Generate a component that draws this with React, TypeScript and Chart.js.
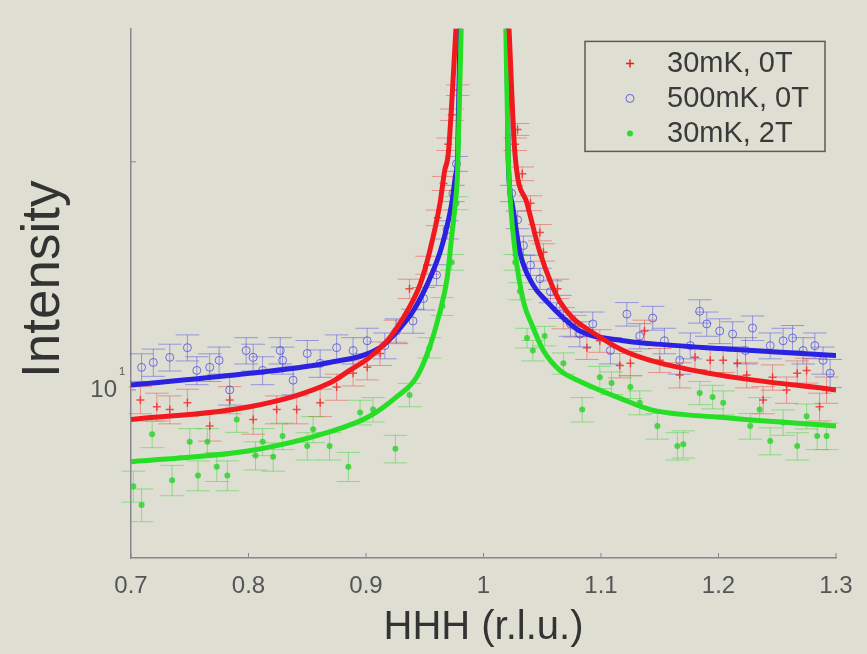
import React, { useEffect, useRef } from 'react';
import { Chart, registerables } from 'chart.js';
Chart.register(...registerables);

// ---- axes ----
const xTicks = [0.7, 0.8, 0.9, 1.0, 1.1, 1.2, 1.3];
const yTicks = [10, 20];
const xRange = [0.7, 1.3];
const yRange = [6, 30];
const xTitle = 'HHH (r.l.u.)';
const yTitle = 'Intensity';
const seriesNames = ['30mK, 0T', '500mK, 0T', '30mK, 2T'];

// ---- fitted curves (left and right of the Bragg peak) ----
const fitRedLeftX = [0.700, 0.801, 0.869, 0.886, 0.903, 0.920, 0.935, 0.946, 0.954, 0.963, 0.967, 0.970, 0.9766];
const fitRedLeftY = [9.14, 9.50, 10.21, 10.61, 11.04, 11.71, 12.70, 13.77, 15.19, 17.64, 19.49, 20.48, 30];
const fitRedRightX = [1.0217, 1.0268, 1.037, 1.048, 1.058, 1.065, 1.076, 1.091, 1.119, 1.142, 1.201, 1.300];
const fitRedRightY = [30, 20.48, 17.64, 15.19, 13.77, 13.08, 12.44, 11.96, 11.27, 10.94, 10.46, 10.0];

const fitBlueLeftX = [0.700, 0.801, 0.869, 0.912, 0.929, 0.940, 0.952, 0.963, 0.969, 0.973, 0.976, 0.978, 0.980];
const fitBlueLeftY = [10.15, 10.52, 10.87, 11.37, 12.07, 12.70, 13.77, 15.19, 16.46, 17.64, 19.11, 20.48, 30];
const fitBlueRightX = [1.020, 1.0209, 1.0243, 1.031, 1.042, 1.054, 1.068, 1.082, 1.119, 1.142, 1.201, 1.300];
const fitBlueRightY = [30, 20.48, 17.64, 15.19, 13.77, 13.08, 12.44, 11.96, 11.61, 11.51, 11.34, 11.10];

const fitGreenLeftX = [0.700, 0.801, 0.869, 0.903, 0.926, 0.943, 0.954, 0.963, 0.969, 0.973, 0.976, 0.978, 0.981];
const fitGreenLeftY = [8.04, 8.31, 8.80, 9.23, 9.79, 10.39, 11.37, 12.70, 14.02, 15.98, 17.64, 19.49, 30];
const fitGreenRightX = [1.019, 1.021, 1.023, 1.027, 1.034, 1.041, 1.051, 1.065, 1.080, 1.119, 1.142, 1.201, 1.300];
const fitGreenRightY = [30, 20.48, 17.64, 15.19, 13.08, 12.21, 11.27, 10.61, 10.30, 9.71, 9.42, 9.20, 8.96];

// ---- measured points ----
const redDataX = [0.708, 0.722, 0.733, 0.748, 0.767, 0.784, 0.804, 0.824, 0.841, 0.861, 0.875, 0.889, 0.901, 0.912, 0.925, 0.937, 0.952, 0.961, 0.966, 0.970, 0.973, 0.978,
  1.027, 1.029, 1.033, 1.040, 1.048, 1.051, 1.063, 1.068, 1.078, 1.088, 1.099, 1.116, 1.125, 1.137, 1.150, 1.167, 1.180, 1.193, 1.204, 1.216, 1.224, 1.238, 1.246, 1.258, 1.267, 1.275, 1.286, 1.292];
const redDataY = [9.70, 9.50, 9.42, 9.62, 8.96, 9.70, 9.14, 9.42, 9.42, 9.62, 10.09, 10.52, 10.71, 11.17, 11.96, 13.60, 14.61, 16.87, 18.73, 21.10, 23.08, 24.87,
  21.10, 22.07, 19.29, 17.64, 16.13, 15.19, 13.60, 12.44, 12.14, 11.37, 11.61, 10.77, 10.84, 11.96, 10.94, 10.46, 11.04, 10.94, 10.94, 10.84, 10.46, 9.70, 10.39, 10.0, 10.52, 10.61, 9.50, 10.0];

const blueDataX = [0.709, 0.719, 0.733, 0.748, 0.756, 0.767, 0.775, 0.784, 0.798, 0.804, 0.812, 0.827, 0.829, 0.838, 0.850, 0.861, 0.875, 0.889, 0.901, 0.916, 0.926, 0.940, 0.949, 0.960, 0.969, 0.974, 0.977,
  1.024, 1.029, 1.034, 1.040, 1.048, 1.057, 1.065, 1.074, 1.082, 1.093, 1.108, 1.122, 1.133, 1.144, 1.154, 1.167, 1.176, 1.184, 1.190, 1.201, 1.212, 1.223, 1.229, 1.244, 1.255, 1.263, 1.272, 1.282, 1.289, 1.295];
const blueDataY = [10.71, 10.87, 11.04, 11.37, 10.61, 10.71, 10.94, 10.0, 11.27, 11.04, 10.61, 11.27, 10.94, 10.30, 11.17, 10.84, 11.37, 11.27, 11.61, 11.44, 11.96, 12.33, 13.20, 14.18, 16.27, 18.17, 19.88,
  18.17, 16.77, 15.51, 14.61, 14.02, 13.48, 12.88, 12.22, 11.85, 12.22, 11.27, 12.59, 11.78, 12.44, 11.61, 10.94, 11.44, 12.70, 12.22, 11.96, 11.85, 11.27, 12.07, 11.44, 11.61, 11.71, 11.27, 11.44, 10.94, 10.52];

const greenDataX = [0.702, 0.709, 0.718, 0.735, 0.750, 0.757, 0.765, 0.773, 0.782, 0.790, 0.806, 0.812, 0.821, 0.829, 0.850, 0.855, 0.869, 0.885, 0.895, 0.906, 0.925, 0.937, 0.954, 0.965, 0.973, 0.977,
  1.027, 1.031, 1.037, 1.042, 1.052, 1.068, 1.084, 1.099, 1.109, 1.125, 1.133, 1.148, 1.165, 1.170, 1.184, 1.195, 1.204, 1.227, 1.235, 1.244, 1.255, 1.267, 1.275, 1.284, 1.292];
const greenDataY = [7.46, 7.05, 8.74, 7.60, 8.54, 7.71, 8.54, 7.92, 7.71, 9.14, 8.19, 8.54, 8.16, 8.69, 8.43, 8.87, 8.43, 7.92, 9.34, 9.42, 8.36, 9.85, 11.37, 12.89, 14.74, 17.64,
  14.74, 13.5, 11.71, 11.27, 11.78, 10.84, 9.42, 10.39, 10.21, 10.09, 9.62, 8.96, 8.43, 8.48, 9.91, 9.79, 9.62, 8.96, 9.42, 8.56, 9.06, 8.43, 9.23, 8.69, 8.69];

// error bar half-heights (intensity units) and cap half-width (r.l.u.)
const redErr = 0.4;
const blueErr = 0.45;
const greenErr = 0.35;
const capHalf = 0.01;

const BG = '#dedfd2';
const RED = '#f01a1e';
const BLUE = '#2a22e0';
const GREEN = '#26de26';
const FONT = '"Liberation Sans", Arial, Helvetica, sans-serif';

const pts = (xs: number[], ys: number[]) => xs.map((x, i) => ({ x, y: ys[i] }));

const bgPlugin = {
  id: 'bg',
  beforeDraw(chart: any) {
    const { ctx, width, height } = chart;
    ctx.save();
    ctx.fillStyle = BG;
    ctx.fillRect(0, 0, width, height);
    ctx.restore();
  },
};

const errorBarPlugin = {
  id: 'errbars',
  beforeDatasetsDraw(chart: any) {
    const { ctx } = chart;
    const xs = chart.scales.x;
    const ys = chart.scales.y;
    chart.data.datasets.forEach((ds: any) => {
      if (ds.err === undefined) return;
      ctx.save();
      ctx.strokeStyle = ds.errColor;
      ctx.lineWidth = 1;
      ds.data.forEach((p: any) => {
        const px = xs.getPixelForValue(p.x);
        const y1 = ys.getPixelForValue(p.y - ds.err);
        const y2 = ys.getPixelForValue(p.y + ds.err);
        const c1 = xs.getPixelForValue(p.x - capHalf);
        const c2 = xs.getPixelForValue(p.x + capHalf);
        ctx.beginPath();
        ctx.moveTo(px, y1); ctx.lineTo(px, y2);
        ctx.moveTo(c1, y1); ctx.lineTo(c2, y1);
        ctx.moveTo(c1, y2); ctx.lineTo(c2, y2);
        ctx.stroke();
      });
      ctx.restore();
    });
  },
};

const decorPlugin = {
  id: 'decor',
  afterDraw(chart: any) {
    const { ctx, chartArea } = chart;
    const xs = chart.scales.x;
    const ys = chart.scales.y;
    ctx.save();
    // inward tick marks
    ctx.strokeStyle = '#8a8690';
    ctx.lineWidth = 1;
    xTicks.forEach((v) => {
      const px = xs.getPixelForValue(v);
      ctx.beginPath();
      ctx.moveTo(px, chartArea.bottom);
      ctx.lineTo(px, chartArea.bottom - 5);
      ctx.stroke();
    });
    yTicks.forEach((v) => {
      const py = ys.getPixelForValue(v);
      ctx.beginPath();
      ctx.moveTo(chartArea.left, py);
      ctx.lineTo(chartArea.left + 5, py);
      ctx.stroke();
    });
    // superscript of 10^1
    const y10 = ys.getPixelForValue(10);
    ctx.fillStyle = '#555555';
    ctx.font = `11px ${FONT}`;
    ctx.textAlign = 'left';
    ctx.textBaseline = 'middle';
    ctx.fillText('1', chartArea.left - 12, y10 - 18);

    // y axis title
    ctx.save();
    ctx.translate(44, (chartArea.top + chartArea.bottom) / 2 - 14);
    ctx.rotate(-Math.PI / 2);
    ctx.font = `53px ${FONT}`;
    ctx.fillStyle = '#333333';
    ctx.textAlign = 'center';
    ctx.textBaseline = 'middle';
    ctx.fillText(yTitle, 0, 0);
    ctx.restore();

    // legend
    const bx = chartArea.right - 251;
    const by = chartArea.top + 13;
    const bw = 240;
    const bh = 110;
    ctx.strokeStyle = '#5a5a5a';
    ctx.lineWidth = 1.5;
    ctx.strokeRect(bx, by, bw, bh);
    const rows = [by + 22, by + 57, by + 92];
    ctx.font = `29px ${FONT}`;
    ctx.fillStyle = '#3a3a3a';
    ctx.textAlign = 'left';
    ctx.textBaseline = 'middle';
    seriesNames.forEach((name, i) => {
      ctx.fillText(name, bx + 82, rows[i] + 1);
    });
    const mx = bx + 45;
    // red plus
    ctx.strokeStyle = RED;
    ctx.lineWidth = 1.5;
    ctx.beginPath();
    ctx.moveTo(mx - 4, rows[0]); ctx.lineTo(mx + 4, rows[0]);
    ctx.moveTo(mx, rows[0] - 4); ctx.lineTo(mx, rows[0] + 4);
    ctx.stroke();
    // blue circle
    ctx.strokeStyle = 'rgba(70,70,230,0.8)';
    ctx.lineWidth = 1;
    ctx.beginPath();
    ctx.arc(mx, rows[1], 4, 0, Math.PI * 2);
    ctx.stroke();
    // green dot
    ctx.fillStyle = GREEN;
    ctx.beginPath();
    ctx.arc(mx, rows[2], 3, 0, Math.PI * 2);
    ctx.fill();
    ctx.restore();
  },
};

export default function App() {
  const ref = useRef<HTMLCanvasElement>(null);
  useEffect(() => {
    if (!ref.current) return;
    const fitStyle = (color: string) => ({
      showLine: true,
      borderColor: color,
      backgroundColor: color,
      borderWidth: 5,
      pointRadius: 0,
      cubicInterpolationMode: 'monotone' as const,
      order: 0,
    });
    const chart = new Chart(ref.current, {
      type: 'scatter',
      data: {
        datasets: [
          {
            label: seriesNames[0], data: pts(redDataX, redDataY), err: redErr, errColor: 'rgba(240,50,50,0.45)',
            pointStyle: 'cross', pointRadius: 4, borderColor: 'rgba(240,30,30,0.75)', borderWidth: 1.5, backgroundColor: 'rgba(240,30,30,0.75)', order: 2,
          } as any,
          {
            label: seriesNames[1], data: pts(blueDataX, blueDataY), err: blueErr, errColor: 'rgba(60,60,230,0.45)',
            pointStyle: 'circle', pointRadius: 4, borderColor: 'rgba(60,60,230,0.7)', borderWidth: 1, backgroundColor: 'rgba(0,0,0,0)', order: 3,
          } as any,
          {
            label: seriesNames[2], data: pts(greenDataX, greenDataY), err: greenErr, errColor: 'rgba(40,210,40,0.45)',
            pointStyle: 'circle', pointRadius: 3, borderColor: 'rgba(40,210,40,0.8)', borderWidth: 0, backgroundColor: 'rgba(40,210,40,0.8)', order: 1,
          } as any,
          { label: 'fit red L', data: pts(fitRedLeftX, fitRedLeftY), ...fitStyle(RED) } as any,
          { label: 'fit red R', data: pts(fitRedRightX, fitRedRightY), ...fitStyle(RED) } as any,
          { label: 'fit green L', data: pts(fitGreenLeftX, fitGreenLeftY), ...fitStyle(GREEN) } as any,
          { label: 'fit green R', data: pts(fitGreenRightX, fitGreenRightY), ...fitStyle(GREEN) } as any,
          { label: 'fit blue L', data: pts(fitBlueLeftX, fitBlueLeftY), ...fitStyle(BLUE) } as any,
          { label: 'fit blue R', data: pts(fitBlueRightX, fitBlueRightY), ...fitStyle(BLUE) } as any,
        ],
      },
      options: {
        responsive: false,
        animation: false,
        layout: { padding: { top: 22, right: 31, bottom: 0, left: 0 } },
        plugins: { legend: { display: false }, tooltip: { enabled: false } },
        scales: {
          x: {
            type: 'linear',
            min: xRange[0],
            max: xRange[1],
            afterFit: (s: any) => { s.height = 96; },
            afterBuildTicks: (s: any) => { s.ticks = xTicks.map((v) => ({ value: v })); },
            grid: { display: true, drawOnChartArea: false, drawTicks: false },
            border: { display: true, color: '#8a8690', width: 1.5 },
            ticks: {
              padding: 14,
              color: '#555555',
              font: { family: FONT, size: 24 },
              callback: (v: any) => String(Math.round(Number(v) * 10) / 10),
              maxRotation: 0,
              autoSkip: false,
            },
            title: {
              display: true,
              text: xTitle,
              color: '#333333',
              font: { family: FONT, size: 40 },
              padding: { top: 0, bottom: 2 },
            },
          },
          y: {
            type: 'logarithmic',
            min: yRange[0],
            max: yRange[1],
            afterFit: (s: any) => { s.width = 131; },
            afterBuildTicks: (s: any) => { s.ticks = yTicks.map((v) => ({ value: v })); },
            grid: { display: true, drawOnChartArea: false, drawTicks: false },
            border: { display: true, color: '#8a8690', width: 1.5 },
            ticks: {
              padding: 14,
              color: '#555555',
              font: { family: FONT, size: 24 },
              callback: (v: any) => (Number(v) === 10 ? '10' : ''),
              autoSkip: false,
            },
            title: { display: false, text: yTitle },
          },
        },
      } as any,
      plugins: [bgPlugin, errorBarPlugin, decorPlugin],
    });
    return () => chart.destroy();
  }, []);
  return (
    <div style={{ position: 'fixed', left: 0, top: 0, width: 867, height: 654, background: BG }}>
      <canvas ref={ref} width={867} height={654} style={{ display: 'block' }} />
    </div>
  );
}
